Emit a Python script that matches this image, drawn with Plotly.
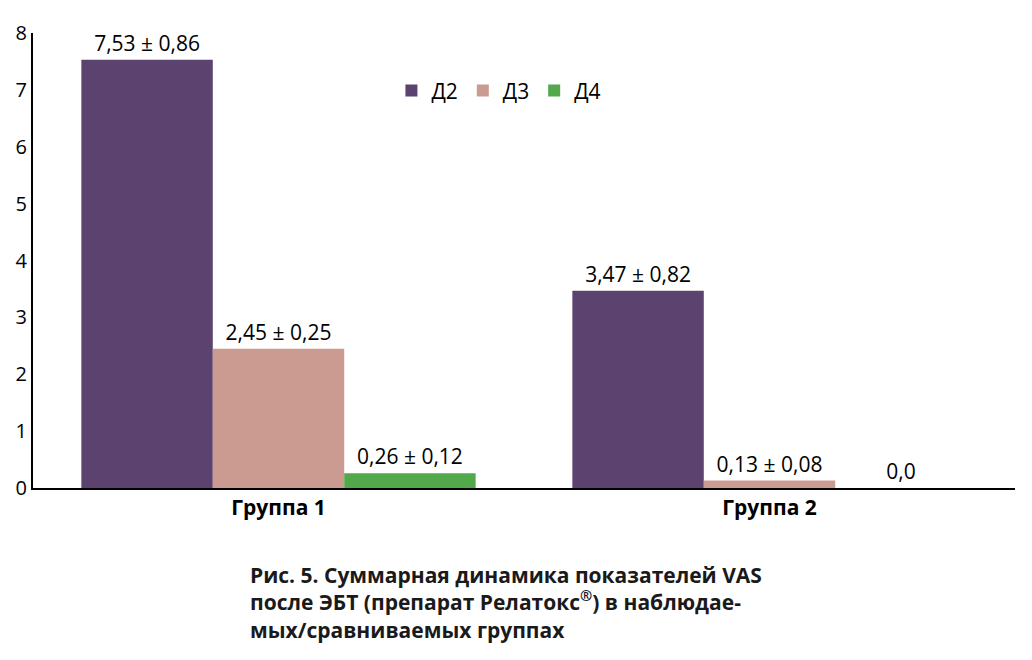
import plotly.graph_objects as go

groups = ["<b>Группа 1</b>", "<b>Группа 2</b>"]
series_names = ["Д2", "Д3", "Д4"]
d2_values = [7.53, 3.47]
d3_values = [2.45, 0.13]
d4_values = [0.26, 0.0]
d2_labels = ["7,53 ± 0,86", "3,47 ± 0,82"]
d3_labels = ["2,45 ± 0,25", "0,13 ± 0,08"]
d4_labels = ["0,26 ± 0,12", "0,0"]
colors = ["#5c436f", "#cb9b91", "#52a84a"]

caption = ("<b>Рис. 5. Суммарная динамика показателей VAS<br>"
           "после ЭБТ (препарат Релатокс<sup style='font-size:11px'>®</sup>) в наблюдае-<br>"
           "мых/сравниваемых группах</b>")

font = "Open Sans"

fig = go.Figure()
for name, vals, labels, col in zip(series_names,
                                   [d2_values, d3_values, d4_values],
                                   [d2_labels, d3_labels, d4_labels],
                                   colors):
    fig.add_trace(go.Bar(
        x=groups, y=vals, name=name, marker_color=col, marker_line_width=0,
        text=labels, textposition="outside", constraintext="none",
        cliponaxis=False, textfont=dict(size=21, color="black", family=font),
    ))

# the page body adds an 8px offset, so margins are trimmed to compensate
fig.update_layout(
    width=1032, height=660,
    margin=dict(l=25, r=25, t=25, b=180, autoexpand=False),
    paper_bgcolor="white", plot_bgcolor="white",
    barmode="group", bargap=0.197, bargroupgap=0,
    font=dict(family=font, size=20, color="black"),
    legend=dict(orientation="h", x=0.365, y=0.873, xanchor="left", yanchor="middle",
                font=dict(size=21), bgcolor="rgba(0,0,0,0)", itemwidth=30),
    annotations=[dict(text=caption, xref="paper", yref="paper", x=0.219, y=-0.155,
                      xanchor="left", yanchor="top", align="left", showarrow=False,
                      font=dict(size=21, family=font, color="#1a1a1a"))],
)
fig.update_yaxes(range=[0, 8], dtick=1, showline=True, linecolor="black", linewidth=2,
                 showgrid=False, zeroline=False, ticks="", automargin=False,
                 tickfont=dict(size=20))
fig.update_xaxes(showline=True, linecolor="black", linewidth=2, ticks="", automargin=False,
                 tickfont=dict(size=21))

fig.write_html("out.html")
